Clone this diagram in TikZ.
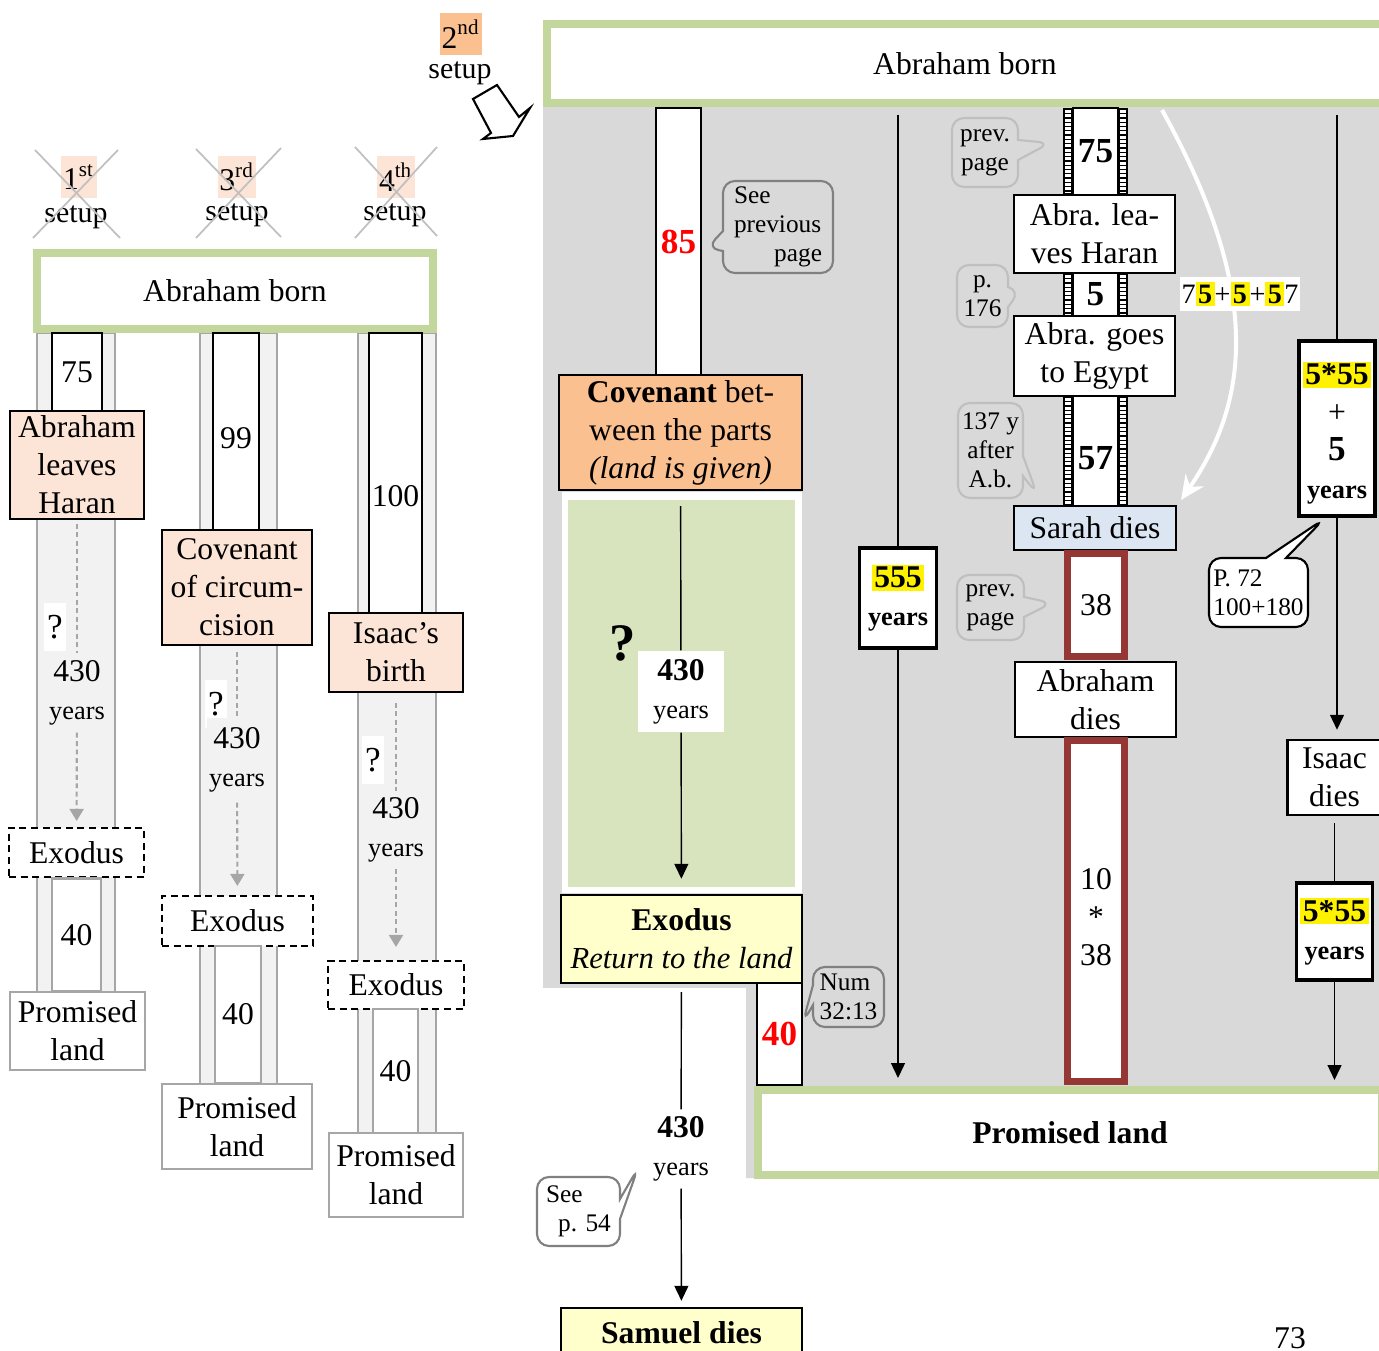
\documentclass[tikz,border=0pt]{standalone}
\usepackage{fontspec}
\setmainfont{Liberation Serif}
\usetikzlibrary{arrows.meta,shapes.callouts}

\definecolor{greenbd}{HTML}{C3D69B}
\definecolor{peachlt}{HTML}{FCE4D6}
\definecolor{peachdk}{HTML}{FAC090}
\definecolor{bandfill}{HTML}{F2F2F2}
\definecolor{bandline}{HTML}{A6A6A6}
\definecolor{crossgray}{HTML}{C0C0C0}
\definecolor{panelgray}{HTML}{D9D9D9}
\definecolor{zonegreen}{HTML}{D7E4BD}
\definecolor{paleyellow}{HTML}{FFFFCC}
\definecolor{bluelt}{HTML}{DCE6F2}
\definecolor{darkred}{HTML}{953735}
\definecolor{callgray}{HTML}{808080}
\definecolor{calllight}{HTML}{BFBFBF}

\newcommand{\yhl}[1]{{\setlength{\fboxsep}{0.7pt}\colorbox{yellow}{#1}}}
\newcommand{\yrs}{{\fontsize{7.5}{9}\selectfont years}}
\newcommand{\byrs}{{\fontsize{7.5}{9}\selectfont\bfseries years}}
\newcommand{\filmstrip}[2]{%
  \fill (1063,#1) rectangle (1073,#2);
  \fill (1118,#1) rectangle (1128,#2);
  \draw[white, line width=0.62mm, dash pattern=on 0.3mm off 0.13mm] (1068,#1+2) -- (1068,#2-2);
  \draw[white, line width=0.62mm, dash pattern=on 0.3mm off 0.13mm] (1123,#1+2) -- (1123,#2-2);}

\begin{document}
\begin{tikzpicture}[x=0.1mm, y=-0.1mm,
    every node/.style={align=center, font=\fontsize{9}{10.8}\selectfont, inner sep=1pt},
    setupnum/.style={fill=peachlt, minimum height=4.2mm, minimum width=3.4mm, inner sep=0.5pt},
    setuptxt/.style={font=\fontsize{8.5}{10}\selectfont},
    strike/.style={draw=crossgray, line width=0.5pt},
    band/.style={fill=bandfill, draw=bandline, line width=0.6pt},
    greenbox/.style={draw=greenbd, line width=0.8mm, fill=white},
    numbox/.style={draw, fill=white, line width=0.6pt},
    eventbox/.style={draw, fill=peachlt, line width=0.6pt},
    exodusbox/.style={draw, dash pattern=on 2pt off 1.3pt, fill=white, line width=0.6pt},
    landbox/.style={draw=bandline, fill=white, line width=0.6pt},
    qmark/.style={fill=white, minimum width=2.2mm, minimum height=4.8mm, inner sep=0pt, font=\fontsize{10}{12}\selectfont},
    yearlbl/.style={fill=bandfill, minimum height=7.8mm, inner sep=0.5pt},
    dashline/.style={draw=bandline, dash pattern=on 1.4pt off 1pt, line width=0.6pt},
    dasharrow/.style={dashline, -{Triangle[width=1.4mm, length=1.2mm]}},
    whitebox/.style={draw, fill=white, line width=0.7pt},
    redbox/.style={draw=darkred, fill=white, line width=0.7mm},
    yearbox/.style={draw, fill=white, line width=1pt},
    bignum/.style={font=\fontsize{10}{12}\selectfont\bfseries},
    rednum/.style={bignum, text=red},
    qbig/.style={font=\fontsize{15}{18}\selectfont\bfseries},
    callnote/.style={rectangle callout, draw=callgray, rounded corners=1.2mm, line width=0.6pt, callout pointer width=2mm, font=\fontsize{7.2}{8.2}\selectfont},
    lightcall/.style={callnote, draw=calllight},
    blackarrow/.style={-{Triangle[width=1.4mm, length=1.5mm]}}]

    \useasboundingbox (0,0) rectangle (1379,1351);
    \clip (0,0) rectangle (1379,1351);

    \node[setupnum] (num1) at (79,177) {1\textsuperscript{st}};
    \node[setuptxt] (set1) at (76,217) {setup};
    \draw[strike] (35,150) -- (120,238);
    \draw[strike] (118,150) -- (33,238);
    \node[setupnum] (num3) at (237,177) {3\textsuperscript{rd}};
    \node[setuptxt] (set3) at (237,215) {setup};
    \draw[strike] (196,149) -- (281,237);
    \draw[strike] (281,148) -- (196,238);
    \node[setupnum] (num4) at (396,177) {4\textsuperscript{th}};
    \node[setuptxt] (set4) at (395,215) {setup};
    \draw[strike] (355,147) -- (437,236);
    \draw[strike] (437,147) -- (355,238);
    \node[setupnum, fill=peachdk, minimum width=4mm] (num2) at (461,34) {2\textsuperscript{nd}};
    \node[setuptxt] (set2) at (460,73) {setup};
    \draw[fill=white, line width=0.6pt] (473,99) -- (497,85) -- (519,117) -- (530,108) -- (513,136) -- (483,139) -- (491,133) -- cycle;

    \draw[band] (37,333) rectangle (115,992);
    \draw[band] (200,333) rectangle (277,1084);
    \draw[band] (358,333) rectangle (436,1133);
    \node[greenbox, minimum width=39.6mm, minimum height=7.6mm] (bornL) at (235,291) {Abraham born};

    \node[numbox, minimum width=5mm, minimum height=7.8mm] (yrs75) at (77,372) {75};
    \node[eventbox, minimum width=13.4mm, minimum height=10.8mm] (leave) at (77,465) {Abraham\\leaves\\Haran};
    \node[qmark] (q1) at (55,627) {?};
    \node[yearlbl] (gap1) at (77,693) {430\\\yrs};
    \node[exodusbox, minimum width=13.5mm, minimum height=4.9mm] (exo1) at (76.5,852.5) {Exodus};
    \node[landbox, minimum width=4.9mm, minimum height=11.3mm] (wan1) at (76.5,935) {40};
    \node[landbox, minimum width=13.5mm, minimum height=7.8mm] (land1) at (77.5,1031) {Promised\\land};
    \draw[dashline, shorten <=0.4mm] (leave) -- (gap1);
    \draw[dasharrow, shorten >=0.6mm] (gap1) -- (exo1);

    \node[numbox, minimum width=4.6mm, minimum height=19.7mm] (yrs99) at (236,431.5) {};
    \node (lbl99) at (236,438) {99};
    \node[eventbox, minimum width=15mm, minimum height=11.5mm] (circ) at (237,587.5) {Covenant\\of circum-\\cision};
    \node[qmark] (q2) at (216,704) {?};
    \node[yearlbl, minimum height=8.4mm] (gap2) at (237,760) {430\\\yrs};
    \node[exodusbox, minimum width=15.1mm, minimum height=5mm] (exo2) at (237.5,921) {Exodus};
    \node[landbox, minimum width=4.6mm, minimum height=13.7mm] (wan2) at (238,1014.5) {40};
    \node[landbox, minimum width=15mm, minimum height=8.5mm] (land2) at (237,1126.5) {Promised\\land};
    \draw[dashline, shorten <=0.6mm] (circ) -- (gap2);
    \draw[dasharrow, shorten >=0.9mm] (gap2) -- (exo2);

    \node[numbox, minimum width=5.3mm, minimum height=28mm] (yrs100) at (395.5,473) {};
    \node (lbl100) at (395.5,496) {100};
    \node[eventbox, minimum width=13.4mm, minimum height=7.9mm] (birth) at (396,652.5) {Isaac's\\birth};
    \node[qmark] (q3) at (373,760) {?};
    \node[yearlbl, minimum height=7.6mm] (gap3) at (396,830) {430\\\yrs};
    \node[exodusbox, minimum width=13.6mm, minimum height=4.8mm] (exo3) at (396,985) {Exodus};
    \node[landbox, minimum width=4.5mm, minimum height=12.4mm] (wan3) at (395.5,1071) {40};
    \node[landbox, minimum width=13.4mm, minimum height=8.4mm] (land3) at (396,1175) {Promised\\land};
    \draw[dashline, shorten <=1mm] (birth) -- (gap3);
    \draw[dasharrow, shorten >=1.3mm] (gap3) -- (exo3);

    \fill[panelgray] (543,106) -- (1379,106) -- (1379,1178) -- (746,1178) -- (746,988) -- (543,988) -- cycle;
    \fill[white] (562,492) rectangle (802,893);
    \fill[zonegreen] (568,500) rectangle (795,887);
    \node[greenbox, minimum width=83.6mm, minimum height=7.9mm] (bornR) at (965,63.5) {Abraham born};
    \node[greenbox, minimum width=62.4mm, minimum height=8.5mm] (landR) at (1070,1132.5) {\textbf{Promised land}};

    \node[numbox, rednum, minimum width=4.5mm, minimum height=26.7mm] (yrs85) at (678.5,241.5) {85};
    \node[callnote, callout absolute pointer={(707,248)}, minimum width=11mm, minimum height=9.2mm, text width=8.8mm, align=left] (seeprev) at (778,227) {See\\previous\\\hspace*{\fill}page};
    \node[whitebox, fill=peachdk, minimum width=24.3mm, minimum height=11.5mm] (parts) at (680.5,432.5) {\textbf{Covenant} bet-\\ween the parts\\\textit{(land is given)}};
    \node[qbig] (qR) at (623,643) {?};
    \node[fill=white, minimum width=8.6mm, minimum height=8.1mm] (gapR) at (681,691.5) {\textbf{430}\\\yrs};
    \node[whitebox, fill=paleyellow, minimum width=24.1mm, minimum height=8.8mm, inner sep=0.5pt] (exoR) at (681.5,939) {\textbf{Exodus}\\{\fontsize{8.7}{10.8}\selectfont\itshape Return to the land}};
    \node[numbox, rednum, minimum width=4.5mm, minimum height=10.2mm] (yrs40R) at (779.5,1034) {40};
    \node[callnote, callout absolute pointer={(803,1022)}, minimum width=7.1mm, minimum height=6mm, align=left] (num3213) at (848.5,997) {Num\\32:13};
    \node[minimum height=7.8mm] (gapS) at (681,1149) {\textbf{430}\\\yrs};
    \node[callnote, callout absolute pointer={(638,1168)}, minimum width=8.3mm, minimum height=6.9mm, align=left] (p54) at (578.5,1211.5) {See\\\hspace*{1.2mm}p. 54};
    \node[whitebox, fill=paleyellow, minimum width=24.1mm, minimum height=5mm] (samuel) at (681.5,1333) {\textbf{Samuel dies}};
    \draw[shorten <=1.5mm] (parts) -- (gapR);
    \draw[blackarrow, shorten >=1.5mm] (gapR) -- (exoR);
    \draw[shorten <=0.8mm] (exoR) -- (gapS);
    \draw[blackarrow, shorten >=0.6mm] (gapS) -- (samuel);

    \coordinate (topB) at (898,115);
    \node[yearbox, minimum width=7.7mm, minimum height=10mm] (y555) at (898,598) {\yhl{\textbf{555}}\\\byrs};
    \draw (topB) -- (y555);
    \draw[blackarrow, shorten >=0.8mm] (y555) -- (y555 |- landR.north);

    \filmstrip{108}{195}
    \filmstrip{273}{316}
    \filmstrip{396}{506}
    \node[numbox, bignum, minimum width=4.5mm, minimum height=8.7mm] (yrs75R) at (1095.5,151.5) {75};
    \node[whitebox, minimum width=16.1mm, minimum height=7.8mm] (leaveR) at (1094.5,234) {Abra. lea-\\ves Haran};
    \node[numbox, bignum, minimum width=4.5mm, minimum height=4.3mm] (yrs5R) at (1095.5,294.5) {5};
    \node[whitebox, minimum width=16.1mm, minimum height=8mm] (egypt) at (1094.5,356) {Abra. goes\\to Egypt};
    \node[numbox, bignum, minimum width=4.5mm, minimum height=11mm] (yrs57R) at (1095.5,451) {};
    \node[bignum] (lbl57) at (1095.5,458) {57};
    \node[whitebox, fill=bluelt, minimum width=16.2mm, minimum height=4.4mm] (sarah) at (1095,528) {Sarah dies};
    \node[redbox, minimum width=5.7mm, minimum height=10.3mm] (yrs38) at (1096,605) {38};
    \node[whitebox, minimum width=16.1mm, minimum height=7.5mm] (abdies) at (1095.5,699.5) {Abraham\\dies};
    \node[redbox, minimum width=5.7mm, minimum height=34.1mm] (yrs380) at (1096,911) {};
    \node (lbl380) at (1096,917) {10\\{*}\\38};

    \node[lightcall, callout absolute pointer={(1050,143)}, minimum width=6.6mm, minimum height=6.9mm] (prevA) at (985,152.5) {prev.\\page};
    \node[lightcall, callout absolute pointer={(1020,291)}, minimum width=5.1mm, minimum height=6.2mm] (p176) at (982.5,296) {p.\\176};
    \node[lightcall, callout absolute pointer={(1037,494)}, minimum width=6.5mm, minimum height=9.5mm] (after137) at (990.5,450.5) {137 y\\after\\A.b.};
    \node[lightcall, callout absolute pointer={(1052,603)}, minimum width=6.7mm, minimum height=6.5mm] (prevB) at (990.5,607.5) {prev.\\page};

    \coordinate (arcS) at (1162,110);
    \coordinate (arcE) at (1181,500);
    \draw[white, line width=0.4mm, -{Stealth[width=2.2mm, length=2.4mm]}] (arcS) .. controls (1262,290) and (1250,400) .. (arcE);
    \node[fill=white, minimum width=11.5mm, minimum height=3.4mm, inner sep=0.5pt, font=\fontsize{8}{9.6}\selectfont] (sum) at (1240,294) {7\yhl{\textbf{5}}+\yhl{\textbf{5}}+\yhl{\textbf{5}}7};

    \coordinate (topD) at (1337,115);
    \node[yearbox, minimum width=7.6mm, minimum height=17.5mm] (y280) at (1337,428.5) {};
    \node (lbl280) at (1337,433) {\yhl{\textbf{5*55}}\\+\\{\fontsize{10}{12}\selectfont\bfseries 5}\\\byrs};
    \draw (topD) -- (y280);
    \node[callnote, draw=black, fill=white, callout absolute pointer={(1324,519)}, minimum width=9.9mm, minimum height=6.9mm, align=left] (p72) at (1258.5,592.5) {P. 72\\100+180};
    \node[whitebox, minimum width=9.4mm, minimum height=7.5mm] (isaacD) at (1334.5,777.5) {Isaac\\dies};
    \draw[blackarrow, shorten >=0.9mm] (y280) -- (y280 |- isaacD.north);
    \node[yearbox, minimum width=7.6mm, minimum height=9.7mm] (y275) at (1334.5,931.5) {\yhl{\textbf{5*55}}\\\byrs};
    \draw[shorten <=0.7mm] (isaacD) -- (y275);
    \draw[blackarrow, shorten >=0.6mm] (y275) -- (y275 |- landR.north);

    \node (pagenum) at (1290,1338) {73};
\end{tikzpicture}
\end{document}
